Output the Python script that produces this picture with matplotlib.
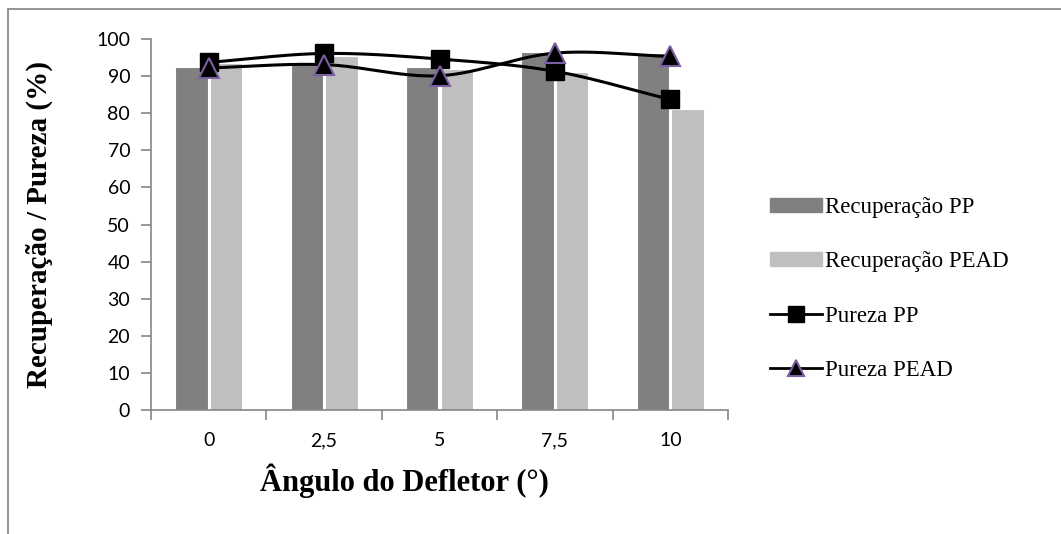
import numpy as np
import matplotlib
matplotlib.use("Agg")
import matplotlib.pyplot as plt
from matplotlib.lines import Line2D
from matplotlib.patches import Patch

# deflector angle categories and measured values (%)
angles = ["0", "2,5", "5", "7,5", "10"]
recup_pp = [92.4, 93.7, 92.4, 96.6, 96.1]
recup_pead = [93.5, 95.5, 92.0, 91.1, 81.0]
pureza_pp = [93.7, 96.1, 94.6, 91.3, 83.7]
pureza_pead = [92.2, 93.1, 90.1, 96.2, 95.3]

DARK = "#808080"
LIGHT = "#bfbfbf"
AXIS = "#868686"
PURPLE = "#7b5fa3"


def smooth(x, y, n=40):
    """Catmull-Rom curve through the points (spreadsheet-style smoothed line)."""
    x = np.asarray(x, float)
    y = np.asarray(y, float)
    px = np.concatenate([[2 * x[0] - x[1]], x, [2 * x[-1] - x[-2]]])
    py = np.concatenate([[2 * y[0] - y[1]], y, [2 * y[-1] - y[-2]]])
    xs, ys = [], []
    t = np.linspace(0, 1, n)
    for i in range(1, len(px) - 2):
        for p, out in ((px, xs), (py, ys)):
            p0, p1, p2, p3 = p[i - 1], p[i], p[i + 1], p[i + 2]
            out.extend(0.5 * ((2 * p1) + (-p0 + p2) * t
                              + (2 * p0 - 5 * p1 + 4 * p2 - p3) * t ** 2
                              + (-p0 + 3 * p1 - 3 * p2 + p3) * t ** 3))
    return np.array(xs), np.array(ys)


fig = plt.figure(figsize=(10.61, 5.34), dpi=100)
ax = fig.add_axes([151 / 1061, 1 - 410 / 534, (728 - 151) / 1061, 371 / 534])

x = np.arange(len(angles))
w = 0.28
ax.bar(x - w / 2 - 0.01, recup_pp, width=w, color=DARK, edgecolor="white", lw=0.8, zorder=2)
ax.bar(x + w / 2 + 0.01, recup_pead, width=w, color=LIGHT, edgecolor="white", lw=0.8, zorder=2)

for vals in (pureza_pp, pureza_pead):
    sx, sy = smooth(x, vals)
    ax.plot(sx, sy, color="black", lw=2.2, zorder=3)
ax.plot(x, pureza_pp, ls="none", marker="s", ms=13, color="black", zorder=4)
ax.plot(x, pureza_pead, ls="none", marker="^", ms=14, mfc="black", mec=PURPLE, mew=1.5, zorder=5)

ax.set_xlim(-0.5, len(angles) - 0.5)
ax.set_ylim(0, 100)
ax.set_yticks(np.arange(0, 101, 10))
ax.set_xticks(np.arange(-0.5, len(angles), 1.0))
ax.set_xticklabels([])
ax.set_xticks(x, minor=True)
ax.set_xticklabels(angles, minor=True)
ax.tick_params(axis="x", which="minor", length=0, pad=16)
ax.tick_params(axis="x", which="major", length=7, width=1.2, color=AXIS)
ax.tick_params(axis="y", length=7, width=1.2, color=AXIS, pad=8)
for lab in ax.get_xticklabels(minor=True) + ax.get_yticklabels():
    lab.set_fontfamily("Lato")
    lab.set_fontsize(14)
for side in ("top", "right"):
    ax.spines[side].set_visible(False)
for side in ("left", "bottom"):
    ax.spines[side].set_color(AXIS)
    ax.spines[side].set_linewidth(1.2)

ax.set_xlabel("Ângulo do Defletor (°)", family="Liberation Serif", weight="bold",
              fontsize=22, va="center")
ax.xaxis.set_label_coords(0.44, -0.19)
ax.set_ylabel("Recuperação / Pureza (%)", family="Liberation Serif", weight="bold",
              fontsize=21, labelpad=31)

handles = [
    Patch(color=DARK),
    Patch(color=LIGHT),
    Line2D([], [], color="black", lw=2, marker="s", ms=11),
    Line2D([], [], color="black", lw=2, marker="^", ms=12, mfc="black", mec=PURPLE, mew=1.5),
]
labels = ["Recuperação PP", "Recuperação PEAD", "Pureza PP", "Pureza PEAD"]
fig.legend(handles, labels, loc="center left", bbox_to_anchor=(770 / 1061, 1 - 289 / 534),
           frameon=False, prop={"family": "Liberation Serif", "size": 16.5},
           handlelength=2.25, handleheight=0.55, handletextpad=0.15, labelspacing=1.45,
           borderaxespad=0, borderpad=0)

# outer chart frame (top and left edges)
fig.add_artist(Line2D([8 / 1061, 8 / 1061], [0, 1 - 9 / 534], transform=fig.transFigure,
                      color="#8c8c8c", lw=1.3))
fig.add_artist(Line2D([8 / 1061, 1], [1 - 9 / 534, 1 - 9 / 534], transform=fig.transFigure,
                      color="#8c8c8c", lw=1.3))

fig.savefig("out.png", dpi=100)
